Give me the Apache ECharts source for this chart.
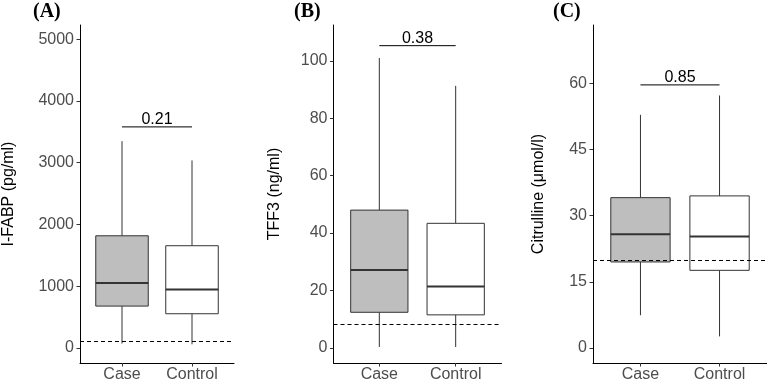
<!DOCTYPE html>
<html>
<head>
<meta charset="utf-8">
<script src="https://cdn.jsdelivr.net/npm/echarts@6/dist/echarts.min.js"></script>
<style>
  html, body { margin: 0; padding: 0; background: #fff; }
  #chart { width: 767px; height: 383px; }
</style>
</head>
<body>
<div id="chart"></div>
<script>
// data: [lower whisker, Q1, median, Q3, upper whisker]
var categories = ['Case', 'Control'];
var panelNames = ['(A)', '(B)', '(C)'];
var axisTitles = ['I-FABP (pg/ml)', 'TFF3 (ng/ml)', 'Citrulline (\u03bcmol/l)'];
var ifabpCase = [70, 677, 1053, 1816, 3349];
var ifabpControl = [58, 553, 945, 1655, 3037];
var tff3Case = [0.3, 12.4, 27.1, 48.0, 101];
var tff3Control = [0.3, 11.5, 21.4, 43.4, 91.3];
var citCase = [7.4, 19.5, 25.8, 34.1, 52.9];
var citControl = [2.6, 17.6, 25.3, 34.5, 57.3];
var cutoffs = [100, 8.4, 20];
var bracketY = [3580, 105.3, 59.7];
var pValues = ['0.21', '0.38', '0.85'];
var yTicks = [
  [0, 1000, 2000, 3000, 4000, 5000],
  [0, 20, 40, 60, 80, 100],
  [0, 15, 30, 45, 60]
];
var yRanges = [[-245, 5231], [-5.27, 112.5], [-3.44, 73.3]];

var boxData = [[ifabpCase, ifabpControl], [tff3Case, tff3Control], [citCase, citControl]];
var fills = ['#bebebe', '#ffffff'];
var font = 'Liberation Sans';

var myChart = echarts.init(document.getElementById('chart'));

var grids = [
  {left: 79, top: 25, width: 155, height: 339.5},
  {left: 333.5, top: 25, width: 168, height: 339.5},
  {left: 593, top: 25, width: 174, height: 339.5}
];
var nameGaps = [63, 51, 46];
var xAxes = [], yAxes = [], series = [], graphics = [];

function boxItem(params, api) {
  var x = api.value(0);
  var lo = api.value(1), q1 = api.value(2), med = api.value(3), q3 = api.value(4), hi = api.value(5);
  var l = api.coord([x - 0.375, q3]);
  var r = api.coord([x + 0.375, q1]);
  var c = api.coord([x, med]);
  var pLo = api.coord([x, lo]), pHi = api.coord([x, hi]);
  var stroke = '#333333';
  return {
    type: 'group',
    children: [
      {type: 'line', shape: {x1: c[0], y1: pHi[1], x2: c[0], y2: l[1]}, style: {stroke: stroke, lineWidth: 1}},
      {type: 'line', shape: {x1: c[0], y1: r[1], x2: c[0], y2: pLo[1]}, style: {stroke: stroke, lineWidth: 1}},
      {type: 'rect', shape: {x: l[0], y: l[1], width: r[0] - l[0], height: r[1] - l[1]},
        style: {fill: fills[params.dataIndex], stroke: stroke, lineWidth: 1}},
      {type: 'line', shape: {x1: l[0], y1: c[1], x2: r[0], y2: c[1]}, style: {stroke: stroke, lineWidth: 2}}
    ]
  };
}

function bracketItem(params, api) {
  var a = api.coord([api.value(0), api.value(2)]);
  var b = api.coord([api.value(1), api.value(2)]);
  return {
    type: 'group',
    children: [
      {type: 'line', shape: {x1: a[0], y1: a[1], x2: b[0], y2: b[1]}, style: {stroke: '#000', lineWidth: 1}},
      {type: 'text', x: (a[0] + b[0]) / 2, y: a[1] + 1,
        style: {text: pValues[params.seriesIndex / 2 | 0], fill: '#000', font: '16px "' + font + '"',
          align: 'center', verticalAlign: 'bottom'}}
    ]
  };
}

for (var i = 0; i < 3; i++) {
  xAxes.push({
    gridIndex: i, type: 'value', min: 0.4, max: 2.6,
    axisLine: {show: true, onZero: false, lineStyle: {color: '#000', width: 1}},
    axisTick: {show: true, length: 3.5, lineStyle: {color: '#333'}, customValues: [1, 2]},
    axisLabel: {color: '#4d4d4d', fontSize: 16, fontFamily: font, margin: 4, customValues: [1, 2],
      formatter: function (v) { return categories[Math.round(v) - 1]; }},
    splitLine: {show: false}
  });
  yAxes.push({
    gridIndex: i, type: 'value', min: yRanges[i][0], max: yRanges[i][1],
    name: axisTitles[i], nameLocation: 'middle', nameGap: nameGaps[i],
    nameTextStyle: {color: '#000', fontSize: 16, fontFamily: font},
    axisLine: {show: true, onZero: false, lineStyle: {color: '#000', width: 1}},
    axisTick: {show: true, length: 3.5, lineStyle: {color: '#333'}, customValues: yTicks[i]},
    axisLabel: {color: '#4d4d4d', fontSize: 16, fontFamily: font, margin: 6, customValues: yTicks[i],
      formatter: function (v) { return String(v); }},
    splitLine: {show: false}
  });
  series.push({
    type: 'custom', xAxisIndex: i, yAxisIndex: i,
    renderItem: boxItem,
    data: boxData[i].map(function (d, k) { return [k + 1].concat(d); }),
    encode: {x: 0, y: [1, 2, 3, 4, 5]},
    markLine: {
      silent: true, symbol: 'none', animation: false,
      label: {show: false},
      lineStyle: {color: '#000', type: [4, 3], width: 1},
      data: [{yAxis: cutoffs[i]}]
    }
  });
  series.push({
    type: 'custom', xAxisIndex: i, yAxisIndex: i,
    renderItem: bracketItem,
    data: [[1, 2, bracketY[i]]],
    encode: {x: [0, 1], y: 2}
  });
  graphics.push({
    type: 'text', left: [33, 294, 553][i], top: 2,
    style: {text: panelNames[i], fill: '#000', font: 'bold 20px "Liberation Serif"'}
  });
}

var option = {
  animation: false,
  grid: grids,
  xAxis: xAxes,
  yAxis: yAxes,
  series: series,
  graphic: graphics
};
myChart.setOption(option);
</script>
</body>
</html>
